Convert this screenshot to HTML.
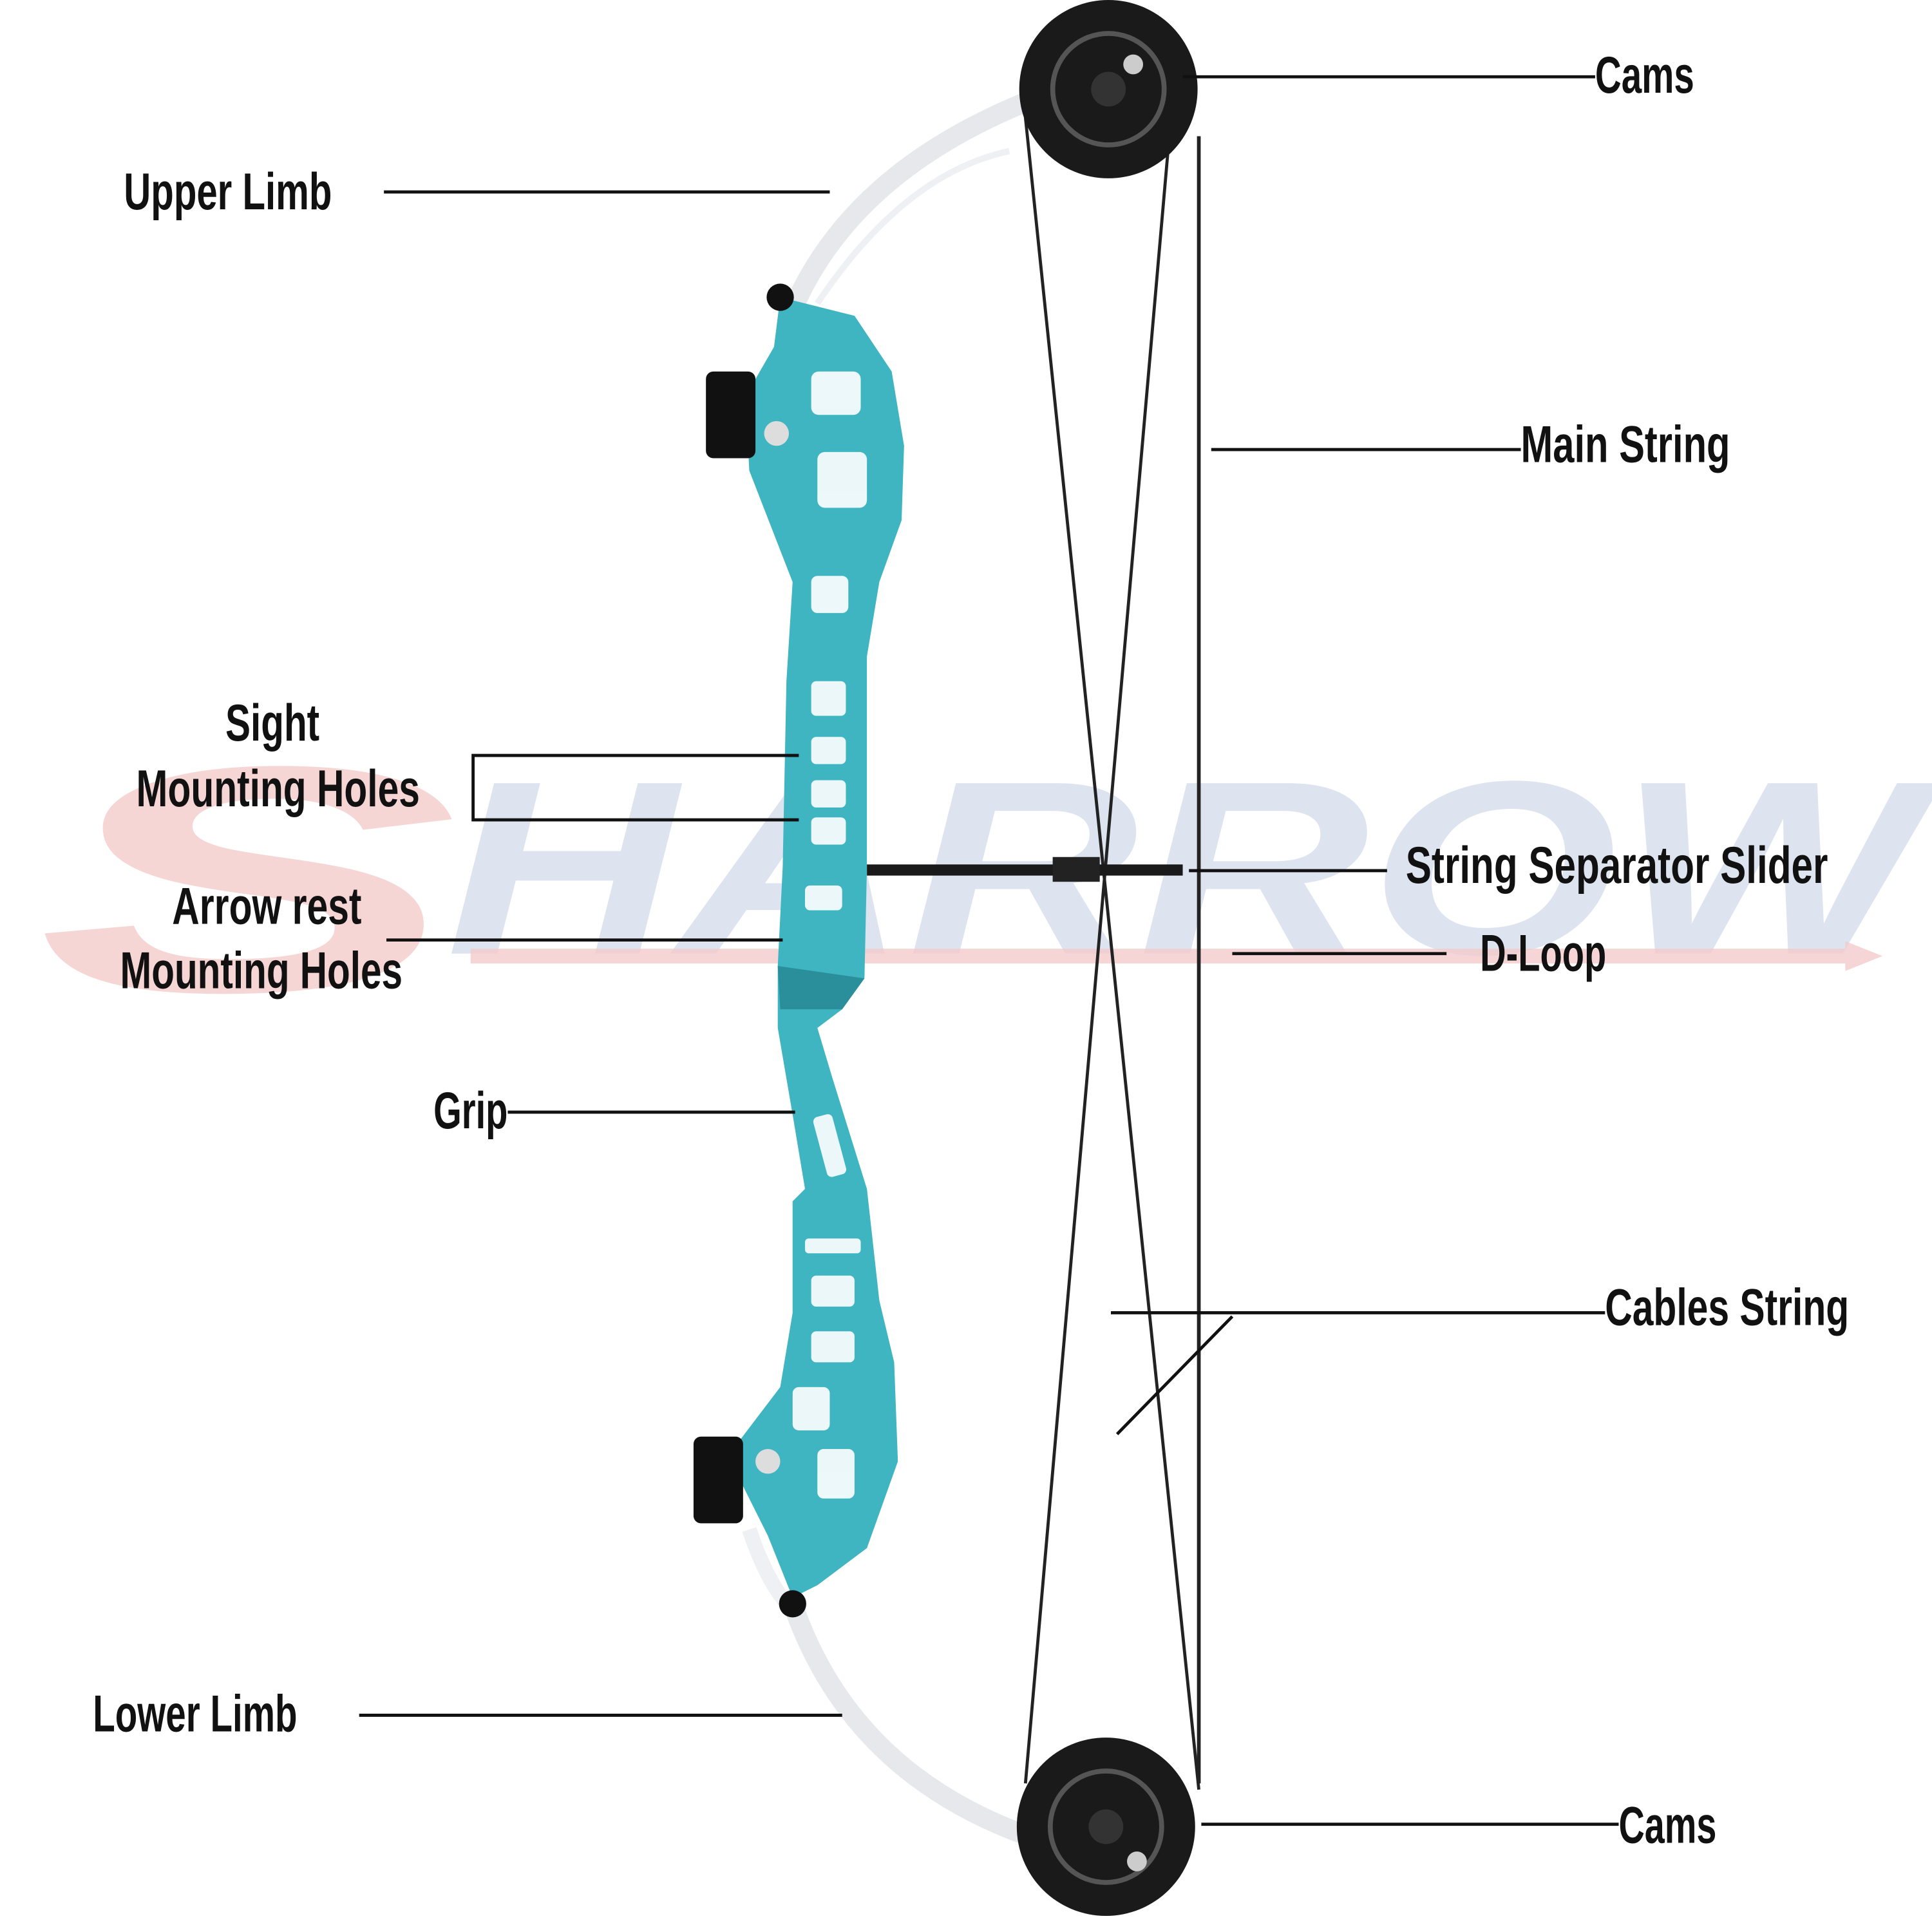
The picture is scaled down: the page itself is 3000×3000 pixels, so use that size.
<!DOCTYPE html>
<html><head><meta charset="utf-8"><style>
html,body{margin:0;padding:0;background:#fff;}
svg{display:block;}
.t{font-family:"Liberation Sans Narrow","Liberation Sans",sans-serif;font-weight:bold;font-size:42px;fill:#111;}
</style></head><body>
<svg width="3000" height="3000" viewBox="0 0 1560 1560" xmlns="http://www.w3.org/2000/svg">
<rect width="1560" height="1560" fill="#fff"/>
<!-- watermark -->
<g opacity="0.55" font-family="Liberation Sans, sans-serif" font-weight="bold" font-style="italic">
<text x="30" y="800" font-size="260" fill="#f0b4b4" textLength="340" lengthAdjust="spacingAndGlyphs">S</text>
<text x="360" y="770" font-size="200" fill="#c3cde2" textLength="1190" lengthAdjust="spacingAndGlyphs">HARROW</text>
</g>
<polygon points="380,766 1490,766 1490,760 1520,772 1490,784 1490,778 380,778" fill="#f3caca" opacity="0.8"/>
<!-- limbs -->
<path d="M640,250 Q700,110 912,55" fill="none" stroke="#e6e8ec" stroke-width="16"/>
<path d="M660,245 Q730,140 815,122" fill="none" stroke="#eef0f3" stroke-width="5"/>
<path d="M640,1295 Q700,1470 920,1505" fill="none" stroke="#e6e8ec" stroke-width="16"/>
<path d="M605,1235 Q620,1280 640,1300" fill="none" stroke="#eef0f3" stroke-width="12"/>
<!-- strings -->
<line x1="968" y1="110" x2="968" y2="1440" stroke="#222" stroke-width="3"/>
<line x1="828" y1="95" x2="968" y2="1445" stroke="#222" stroke-width="2.5"/>
<line x1="945" y1="100" x2="828" y2="1440" stroke="#222" stroke-width="2.5"/>
<!-- cams -->
<circle cx="895" cy="72" r="72" fill="#1a1a1a"/>
<circle cx="895" cy="72" r="45" fill="none" stroke="#555" stroke-width="4"/>
<circle cx="895" cy="72" r="14" fill="#333"/>
<circle cx="915" cy="52" r="8" fill="#ccc"/>
<circle cx="893" cy="1475" r="72" fill="#1a1a1a"/>
<circle cx="893" cy="1475" r="45" fill="none" stroke="#555" stroke-width="4"/>
<circle cx="893" cy="1475" r="14" fill="#333"/>
<circle cx="918" cy="1503" r="8" fill="#ccc"/>
<!-- riser -->
<polygon points="630,240 690,255 720,300 730,360 728,420 710,470 700,530 700,700 698,790 680,815 660,830 672,870 700,960 710,1050 722,1100 725,1180 700,1250 660,1280 640,1290 620,1240 600,1200 592,1170 630,1120 640,1060 640,970 650,960 640,900 628,830 628,780 632,700 635,550 640,470 605,380 602,320 625,280" fill="#3fb5c2"/>
<polygon points="628,780 698,790 680,815 630,815" fill="#2a8f9b"/>
<g fill="#fff" opacity="0.9">
<rect x="655" y="300" width="40" height="35" rx="6"/><rect x="660" y="365" width="40" height="45" rx="6"/>
<rect x="655" y="465" width="30" height="30" rx="5"/><rect x="655" y="550" width="28" height="28" rx="4"/>
<rect x="655" y="595" width="28" height="22" rx="4"/><rect x="655" y="630" width="28" height="22" rx="4"/>
<rect x="655" y="660" width="28" height="22" rx="4"/><rect x="650" y="715" width="30" height="20" rx="4"/>
<rect x="662" y="900" width="16" height="50" rx="4" transform="rotate(-15 670 925)"/>
<rect x="650" y="1000" width="45" height="12" rx="3"/>
<rect x="655" y="1030" width="35" height="25" rx="4"/><rect x="655" y="1075" width="35" height="25" rx="4"/>
<rect x="640" y="1120" width="30" height="35" rx="5"/><rect x="660" y="1170" width="30" height="40" rx="5"/>
</g>
<rect x="570" y="300" width="40" height="70" rx="6" fill="#111"/>
<rect x="560" y="1160" width="40" height="70" rx="6" fill="#111"/>
<circle cx="630" cy="240" r="11" fill="#111"/><circle cx="640" cy="1295" r="11" fill="#111"/>
<circle cx="627" cy="350" r="10" fill="#ddd"/><circle cx="620" cy="1180" r="10" fill="#ddd"/>
<!-- slider -->
<rect x="700" y="698" width="255" height="9" fill="#1a1a1a"/>
<rect x="850" y="692" width="38" height="20" fill="#222"/>
<!-- leader lines -->
<g stroke="#111" stroke-width="2.5" fill="none">
<line x1="955" y1="62" x2="1288" y2="62"/>
<line x1="310" y1="155" x2="670" y2="155"/>
<line x1="978" y1="363" x2="1228" y2="363"/>
<polyline points="645,610 382,610 382,662 645,662"/>
<line x1="960" y1="703" x2="1120" y2="703"/>
<line x1="312" y1="759" x2="632" y2="759"/>
<line x1="995" y1="770" x2="1168" y2="770"/>
<line x1="410" y1="898" x2="642" y2="898"/>
<line x1="897" y1="1060" x2="1296" y2="1060"/>
<line x1="995" y1="1063" x2="902" y2="1158"/>
<line x1="290" y1="1385" x2="680" y2="1385"/>
<line x1="970" y1="1473" x2="1307" y2="1473"/>
</g>
<!-- labels -->
<g lengthAdjust="spacingAndGlyphs">
<text class="t" x="1288" y="75" textLength="80" lengthAdjust="spacingAndGlyphs">Cams</text>
<text class="t" x="100" y="169" textLength="168" lengthAdjust="spacingAndGlyphs">Upper Limb</text>
<text class="t" x="1228" y="373" textLength="169" lengthAdjust="spacingAndGlyphs">Main String</text>
<text class="t" x="182" y="598" textLength="76" lengthAdjust="spacingAndGlyphs">Sight</text>
<text class="t" x="110" y="651" textLength="229" lengthAdjust="spacingAndGlyphs">Mounting Holes</text>
<text class="t" x="1135" y="713" textLength="341" lengthAdjust="spacingAndGlyphs">String Separator Slider</text>
<text class="t" x="139" y="746" textLength="153" lengthAdjust="spacingAndGlyphs">Arrow rest</text>
<text class="t" x="97" y="798" textLength="228" lengthAdjust="spacingAndGlyphs">Mounting Holes</text>
<text class="t" x="1195" y="784" textLength="102" lengthAdjust="spacingAndGlyphs">D-Loop</text>
<text class="t" x="350" y="911" textLength="60" lengthAdjust="spacingAndGlyphs">Grip</text>
<text class="t" x="1296" y="1070" textLength="197" lengthAdjust="spacingAndGlyphs">Cables String</text>
<text class="t" x="75" y="1398" textLength="165" lengthAdjust="spacingAndGlyphs">Lower Limb</text>
<text class="t" x="1307" y="1488" textLength="79" lengthAdjust="spacingAndGlyphs">Cams</text>
</g>
</svg>
</body></html>
